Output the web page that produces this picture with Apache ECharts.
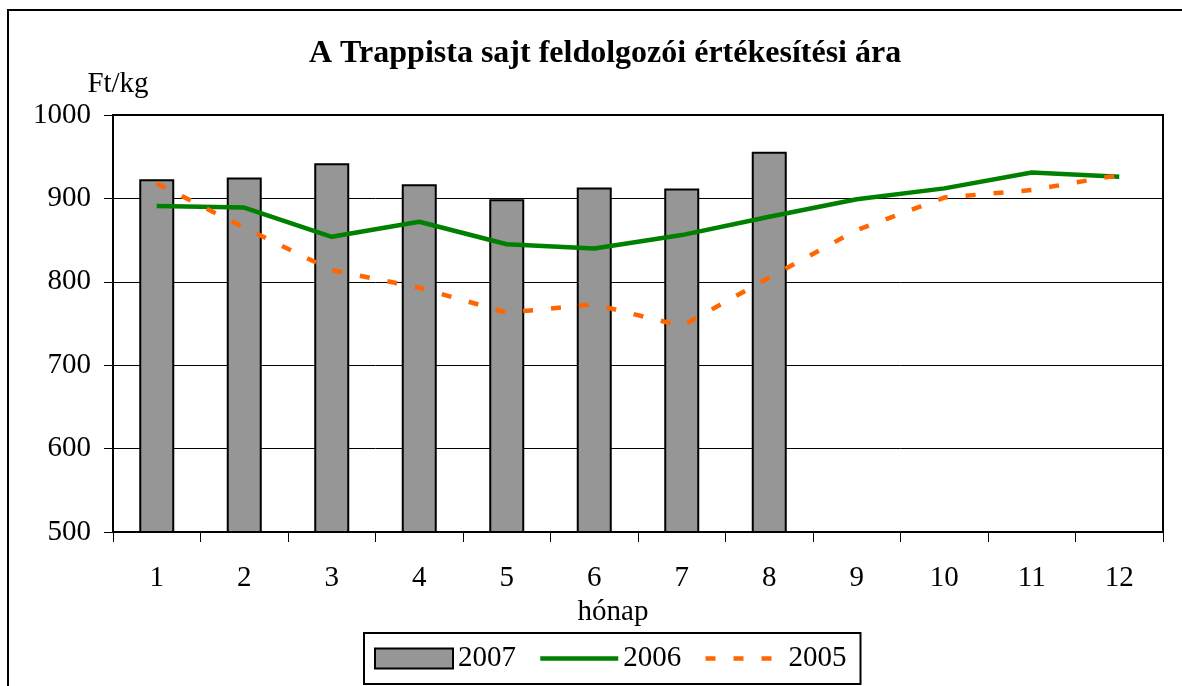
<!DOCTYPE html>
<html>
<head>
<meta charset="utf-8">
<script src="https://cdn.jsdelivr.net/npm/echarts@6/dist/echarts.min.js"></script>
<style>
  html, body { margin: 0; padding: 0; background: #fff; }
  #chart { width: 1182px; height: 686px; }
</style>
</head>
<body>
<div id="chart"></div>
<script>
const FONT = "Liberation Serif, Times New Roman, serif";

const months = ["1", "2", "3", "4", "5", "6", "7", "8", "9", "10", "11", "12"];
const price2007 = [923, 925, 942, 917, 899, 913, 912, 956];
const price2006 = [891, 889, 854, 872, 845, 840, 856, 878, 899, 912, 931, 926];
const price2005 = [918, 865, 814, 793, 763, 773, 747, 805, 862, 901, 910, 928];

const chart = echarts.init(document.getElementById("chart"), null, { renderer: "canvas" });

chart.setOption({
  animation: false,
  backgroundColor: "#fff",
  title: {
    text: "A Trappista sajt feldolgozói értékesítési ára",
    left: 304,
    top: 33,
    textStyle: { fontFamily: FONT, fontSize: 32, fontWeight: "bold", color: "#000" },
  },
  graphic: [
    {
      type: "rect",
      shape: { x: 8, y: 10, width: 1200, height: 720 },
      style: { fill: "none", stroke: "#000", lineWidth: 2 },
      silent: true,
    },
  ],
  grid: {
    left: 113, right: 19, top: 115, bottom: 154,
    show: true, borderColor: "#000", borderWidth: 2, backgroundColor: "transparent",
  },
  legend: {
    left: 364,
    top: 633,
    padding: [11, 14, 11, 10],
    borderColor: "#000",
    borderWidth: 2,
    itemWidth: 78,
    itemHeight: 20,
    itemGap: 22,
    textStyle: { fontFamily: FONT, fontSize: 29, color: "#000" },
    data: [
      { name: "2007", icon: "rect" },
      { name: "2006", itemStyle: { opacity: 0 }, lineStyle: { width: 4.5 } },
      { name: "2005", itemStyle: { opacity: 0 }, lineStyle: { width: 4.5 } },
    ],
  },
  xAxis: {
    type: "category",
    data: months,
    boundaryGap: true,
    name: "hónap",
    nameLocation: "middle",
    nameGap: 58,
    nameTextStyle: { fontFamily: FONT, fontSize: 29, color: "#000", padding: [0, 50, 0, 0] },
    axisLine: { lineStyle: { color: "#000", width: 2 } },
    axisTick: { show: true, length: 10, lineStyle: { color: "#000", width: 1 } },
    axisLabel: { fontFamily: FONT, fontSize: 29, color: "#000", margin: 32 },
  },
  yAxis: {
    type: "value",
    min: 500,
    max: 1000,
    interval: 100,
    name: "Ft/kg",
    nameLocation: "end",
    nameGap: 16,
    nameTextStyle: { fontFamily: FONT, fontSize: 29, color: "#000", align: "center", padding: [0, 0, 0, 10] },
    axisLine: { show: true, lineStyle: { color: "#000", width: 2 } },
    axisTick: { show: true, length: 9, lineStyle: { color: "#000", width: 1 } },
    axisLabel: { fontFamily: FONT, fontSize: 29, color: "#000", margin: 22, formatter: (v) => String(v) },
    splitLine: { lineStyle: { color: "#000", width: 1 } },
  },
  series: [
    {
      name: "2007",
      type: "bar",
      data: price2007,
      barWidth: "40%",
      itemStyle: { color: "#969696", borderColor: "#000", borderWidth: 2 },
    },
    {
      name: "2006",
      type: "line",
      data: price2006,
      symbol: "none",
      lineStyle: { color: "#008000", width: 4.5 },
      itemStyle: { color: "#008000" },
    },
    {
      name: "2005",
      type: "line",
      data: price2005,
      symbol: "none",
      lineStyle: { color: "#ff6600", width: 4.5, type: [10, 18] },
      itemStyle: { color: "#ff6600" },
    },
  ],
});
</script>
</body>
</html>
